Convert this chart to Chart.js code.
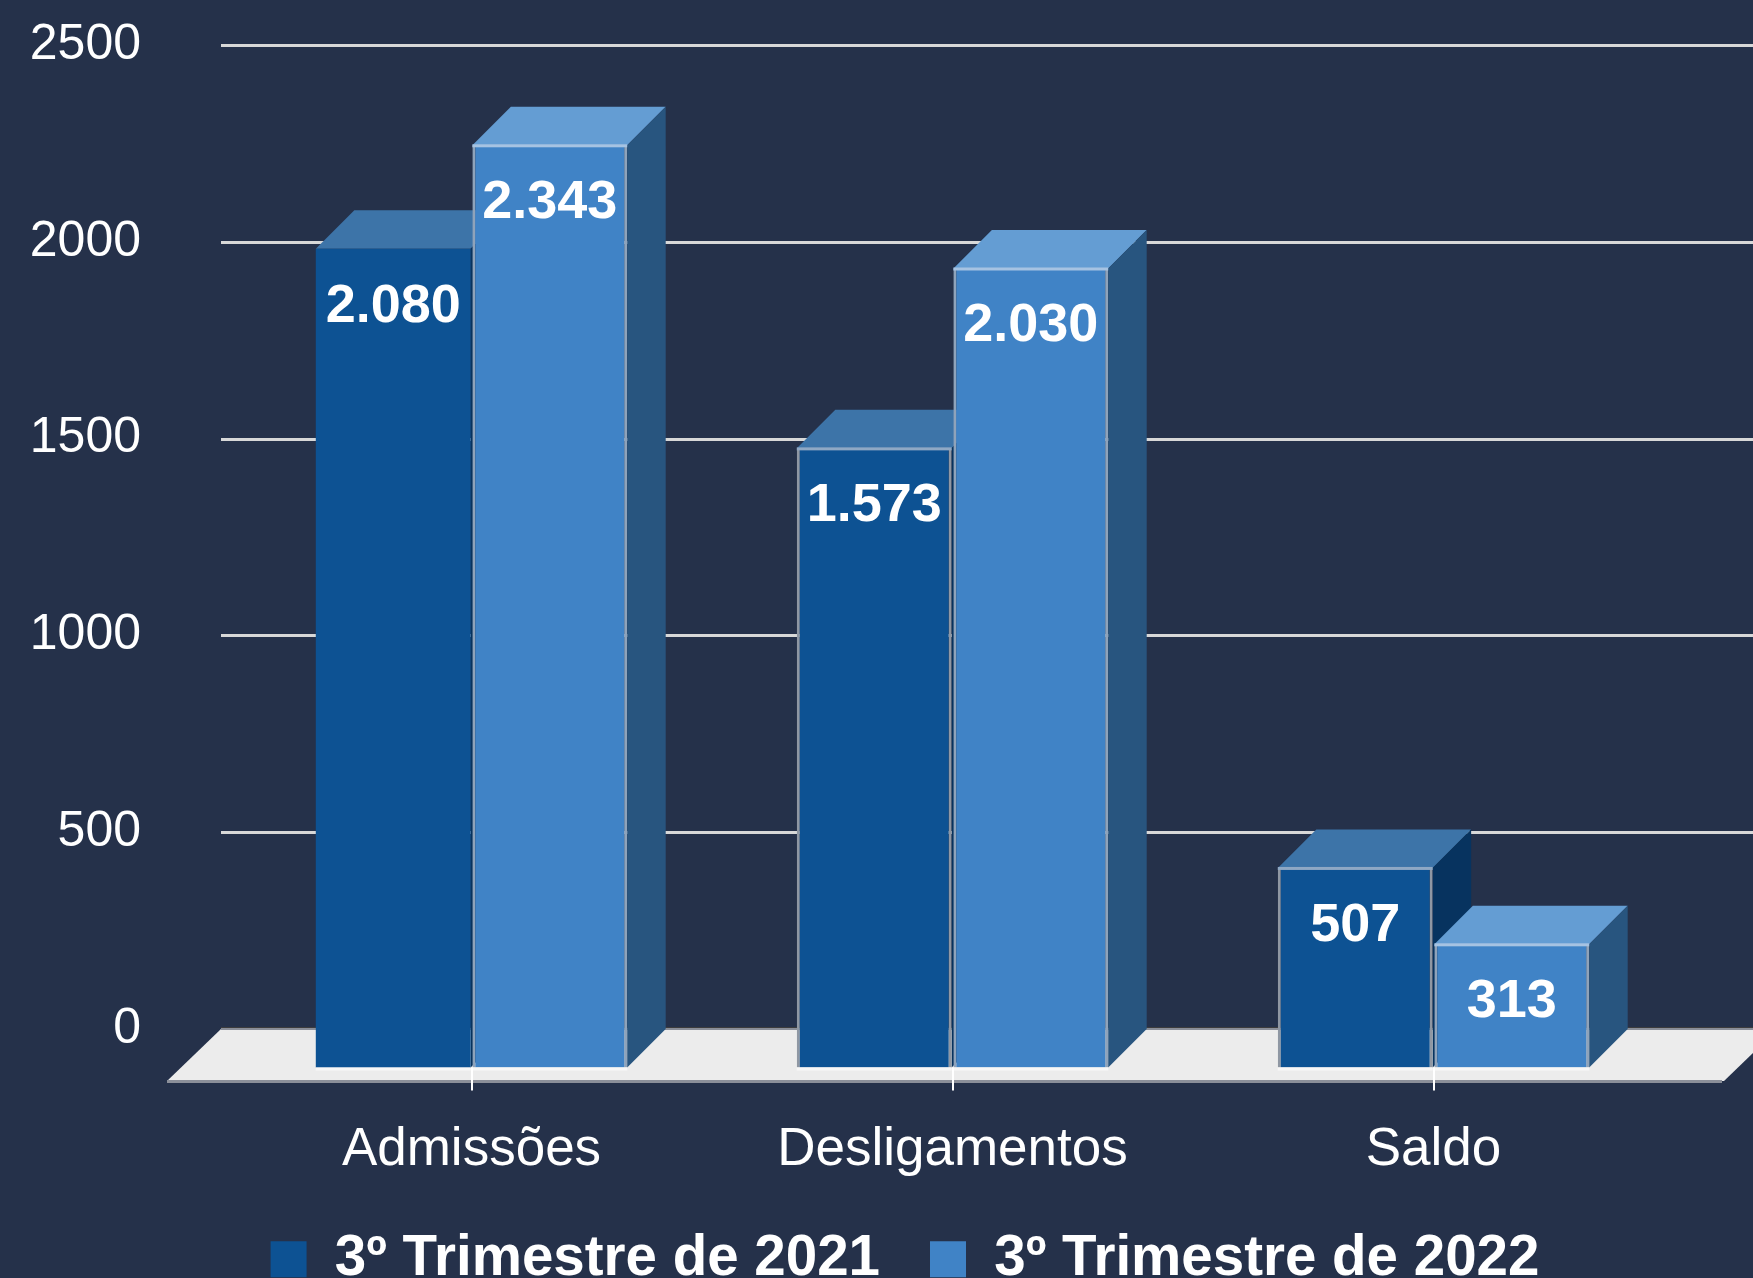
<!DOCTYPE html>
<html>
<head>
<meta charset="utf-8">
<title>Admissões e desligamentos</title>
<script src="https://cdn.jsdelivr.net/npm/chart.js@4"></script>
<style>
    html, body { margin: 0; padding: 0; background: #25314a; overflow: hidden; }
    canvas { display: block; }
</style>
</head>
<body>
<canvas id="chart" width="1753" height="1278"></canvas>
<script>
// --- Daten ---
const categories = ['Admissões', 'Desligamentos', 'Saldo'];
const seriesNames = ['3º Trimestre de 2021', '3º Trimestre de 2022'];
const values2021 = [2080, 1573, 507];
const values2022 = [2343, 2030, 313];
const yTicks = [0, 500, 1000, 1500, 2000, 2500];

// --- Farben ---
const FRONT = ['#0d5293', '#4083c6'];
const TOP = ['#3d74a8', '#649dd3'];
const SIDE = ['#07335f', '#28557f'];
const EDGE_TOP = ['#8fa8c4', '#a6c3e2'];
const FONT = '"Liberation Sans", Arial, sans-serif';

// Tiefe der 3D-Saeulen und des Bodens
const DEPTH = 38.5;
const FLOOR_DEPTH = 52;

// Punkt als Tausendertrenner wie im Original
function fmt(v) {
    return String(v).replace(/\B(?=(\d{3})+$)/g, '.');
}

function poly(ctx, pts, color) {
    ctx.fillStyle = color;
    ctx.beginPath();
    pts.forEach((p, i) => i ? ctx.lineTo(p[0], p[1]) : ctx.moveTo(p[0], p[1]));
    ctx.closePath();
    ctx.fill();
}

// --- Legende an ihre Stelle ruecken (Box bis zum Bildrand, sonst wird sie abgeschnitten) ---
const legendPlugin = {
    id: 'legendShift',
    afterLayout(chart) {
        const lg = chart.legend;
        lg.left += 68; lg.right += 68;
        lg.top -= 21;
        lg.bottom = chart.height;
        lg.height = lg.bottom - lg.top;
    }
};

// --- Boden und Gitterlinien ---
const floorPlugin = {
    id: 'floor',
    beforeDatasetsDraw(chart) {
        const { ctx, chartArea: a, scales: { y } } = chart;
        const back = a.bottom;
        const front = back + FLOOR_DEPTH;
        const left = a.left - 10;
        const right = a.right + 104;

        ctx.save();
        y.ticks.forEach(t => {
            if (t.value === 0) return;
            ctx.fillStyle = '#d8d8d8';
            ctx.fillRect(left, Math.round(y.getPixelForValue(t.value)) - 1, chart.width - left, 3);
        });
        poly(ctx, [[left, back], [right, back], [right - 54, front], [left - 54, front]], '#ececec');
        ctx.fillStyle = '#3c3c3e';
        ctx.fillRect(left, back - 2, chart.width - left, 1);
        ctx.fillStyle = '#8b8f99';
        ctx.fillRect(left, back - 1, chart.width - left, 2);
        ctx.fillRect(left - 54, front - 1, right - left - 2, 3);
        ctx.restore();
    }
};

// --- Saeulen selbst der Reihe nach zeichnen: 2021 zuerst, 2022 darueber ---
const boxPlugin = {
    id: 'box3d',
    beforeDatasetsDraw(chart) {
        const { ctx } = chart;
        chart.data.datasets.forEach((ds, i) => {
            const meta = chart.getDatasetMeta(i);
            meta.data.forEach(el => {
                const l = el.x - el.width / 2;
                const r = el.x + el.width / 2;
                const t = el.y + DEPTH;
                const b = el.base + DEPTH;
                poly(ctx, [[l, t], [r, t], [r + DEPTH, t - DEPTH], [l + DEPTH, t - DEPTH]], TOP[i]);
                poly(ctx, [[r, t], [r + DEPTH, t - DEPTH], [r + DEPTH, b - DEPTH], [r, b]], SIDE[i]);
            });
            ctx.save();
            ctx.translate(0, DEPTH);
            meta.controller.draw();
            ctx.restore();
            meta.data.forEach((el, n) => {
                const l = el.x - el.width / 2;
                // helle Oberkante und weisse Unterkante
                if (!(i === 0 && n === 0)) {
                    ctx.fillStyle = EDGE_TOP[i];
                    ctx.fillRect(l, el.y + DEPTH - 1, el.width, 3);
                }
                ctx.fillStyle = '#f7f7f7';
                ctx.fillRect(l, el.base + DEPTH, el.width, 3);
            });
        });
    },
    beforeDatasetDraw() {
        return false;
    },
    afterDatasetsDraw(chart) {
        const { ctx, chartArea: a, scales: { x } } = chart;
        ctx.save();
        // Tick-Striche
        ctx.fillStyle = '#ffffff';
        x.ticks.forEach((t, n) => {
            ctx.fillRect(Math.round(x.getPixelForTick(n)) - 1, a.bottom + DEPTH, 2, 23);
        });
        // Werte in den Saeulen
        ctx.font = 'bold 54px ' + FONT;
        ctx.textAlign = 'center';
        ctx.textBaseline = 'middle';
        chart.data.datasets.forEach((ds, i) => {
            chart.getDatasetMeta(i).data.forEach((el, n) => {
                ctx.fillText(fmt(ds.data[n]), el.x, el.y + DEPTH + 58);
            });
        });
        ctx.restore();
    }
};

new Chart(document.getElementById('chart').getContext('2d'), {
    type: 'bar',
    data: {
        labels: categories,
        datasets: [
            {
                label: seriesNames[0],
                data: values2021,
                backgroundColor: FRONT[0],
                borderColor: '#8f97a3',
                borderSkipped: false,
                borderWidth: c => (c.dataIndex === 0 ? 0 : { left: 3, right: 3, top: 0, bottom: 0 })
            },
            {
                label: seriesNames[1],
                data: values2022,
                backgroundColor: FRONT[1],
                borderColor: '#8fa3ba',
                borderSkipped: false,
                borderWidth: { left: 3, right: 3, top: 0, bottom: 0 }
            }
        ]
    },
    options: {
        responsive: false,
        animation: false,
        categoryPercentage: 0.651,
        barPercentage: 0.989,
        layout: { padding: { left: 0, right: 79, top: 45, bottom: 0 } },
        plugins: {
            tooltip: { enabled: false },
            legend: {
                position: 'bottom',
                maxHeight: 76,
                labels: {
                    color: '#ffffff',
                    boxWidth: 36,
                    boxHeight: 36,
                    padding: 50,
                    font: { family: FONT, size: 56.5, weight: 'bold' },
                    generateLabels(chart) {
                        const items = Chart.defaults.plugins.legend.labels.generateLabels(chart);
                        items.forEach(it => { it.lineWidth = 0; });
                        return items;
                    }
                }
            }
        },
        scales: {
            x: {
                offset: true,
                grid: { display: false },
                border: { display: false },
                afterFit(s) { s.height = 173; },
                ticks: {
                    color: '#ffffff',
                    padding: 82,
                    autoSkip: false,
                    maxRotation: 0,
                    font: { family: FONT, size: 53 }
                }
            },
            y: {
                min: yTicks[0],
                max: yTicks[yTicks.length - 1],
                // Abstand der Beschriftung ueber tickLength, ticks.padding wuerde die Flaeche oben verkleinern
                grid: { display: false, tickLength: 90 },
                border: { display: false },
                afterFit(s) { s.width = 231; },
                afterBuildTicks(s) { s.ticks = yTicks.map(v => ({ value: v })); },
                ticks: {
                    color: '#ffffff',
                    padding: 0,
                    callback: v => String(v),
                    font: { family: FONT, size: 50 }
                }
            }
        }
    },
    plugins: [legendPlugin, floorPlugin, boxPlugin]
});
</script>
</body>
</html>
